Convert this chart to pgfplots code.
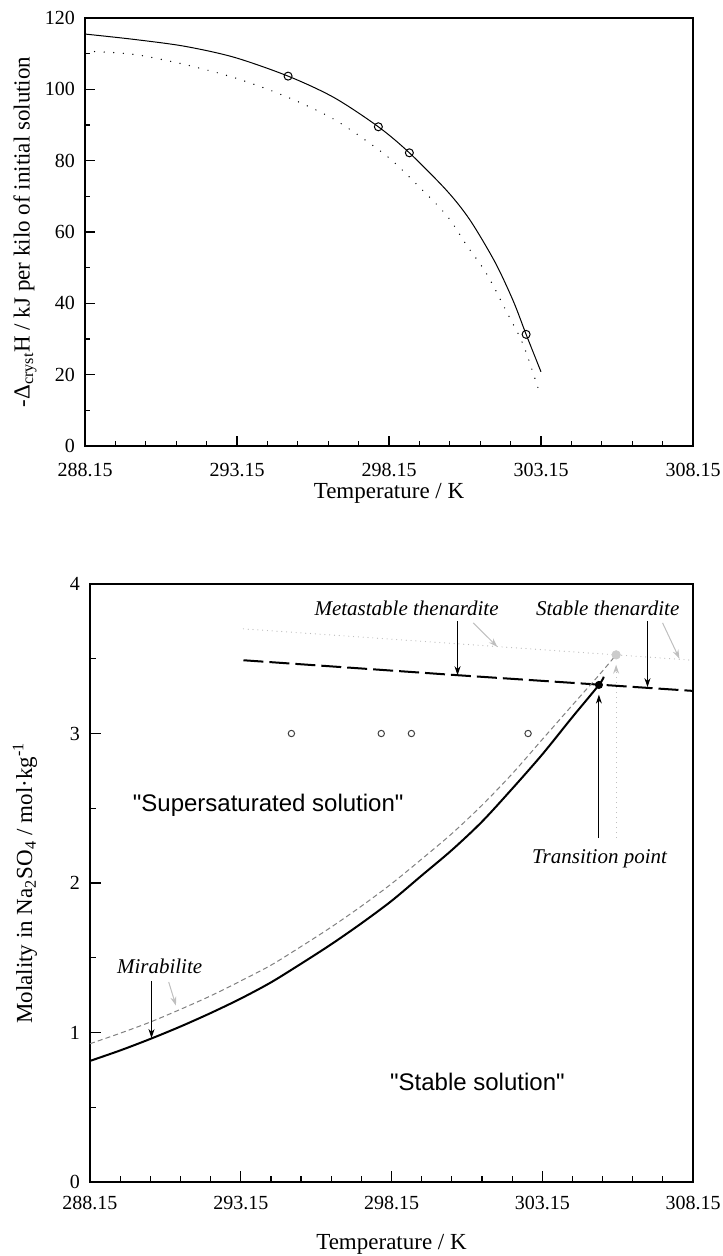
\documentclass[border=0pt]{standalone}
\usepackage{fontspec}
\setmainfont{Liberation Serif}
\newfontfamily\arialish{Liberation Sans}
\usepackage{pgfplots}
\pgfplotsset{compat=1.18}
\usetikzlibrary{arrows.meta}

\pgfplotsset{
  chartbase/.style={
    scale only axis,
    anchor=north west,
    clip=false,
    xmin=288.15, xmax=308.15,
    xtick={288.15,293.15,298.15,303.15,308.15},
    xticklabels={288.15,293.15,298.15,303.15,308.15},
    minor x tick num=4,
    minor y tick num=1,
    tick align=inside,
    xtick pos=left, ytick pos=left,
    tick style={black, line width=0.6pt},
    major tick length=5pt, minor tick length=2.5pt,
    axis line style={line width=0.9pt},
    ticklabel style={font=\fontsize{10}{12}\selectfont},
    label style={font=\fontsize{11.5}{13}\selectfont},
    /pgf/number format/assume math mode=true,
    yticklabel style={xshift=-1.5pt},
  },
}
\tikzset{
  lbl/.style={font=\fontsize{10.5}{12}\selectfont\itshape},
  blkarrow/.style={-{Stealth[length=4.5pt,width=3pt]}, line width=0.5pt, black},
  grayarrow/.style={-{Stealth[length=4.5pt,width=3pt]}, line width=0.5pt, gray!50},
}

\begin{document}
\begin{tikzpicture}
\path[use as bounding box] (0,0) rectangle (361pt,-628pt);

% enthalpy of crystallisation
\begin{axis}[chartbase,
    at={(42.5pt,-9pt)}, width=304pt, height=214pt,
    ymin=0, ymax=120, ytick={0,20,...,120},
    xticklabel style={yshift=-5pt},
    xlabel={Temperature / K},
    ylabel={-Δ\textsubscript{cryst}H / kJ per kilo of initial solution},
    xlabel style={at={(axis description cs:0.5,0)}, anchor=center, yshift=-23.5pt},
    ylabel style={at={(axis description cs:-0.0987,0.5)}, anchor=center},
]
\addplot[black, line width=0.5pt, smooth] coordinates {
  (288.15,115.5) (289.76,114.0) (291.41,112.1) (293.05,109.0) (294.83,103.7)
  (296.34,97.7) (297.80,89.5) (298.82,82.2) (300.05,71.6)
  (300.81,63.4) (301.64,51.5) (302.24,40.6) (302.66,31.3) (303.15,20.8)
};
\addplot[black, line width=0.7pt, line cap=round, dash pattern=on 0pt off 4.8pt, smooth] coordinates {
  (288.15,110.7) (289.76,109.8) (291.41,107.0) (293.05,103.3) (294.70,98.2)
  (296.34,91.6) (297.99,81.9) (298.95,74.3) (300.05,64.6) (300.71,56.2)
  (301.36,48.3) (302.02,37.6) (302.57,28.3) (303.09,15.3)
};
\addplot[only marks, mark=o, mark size=2pt, mark options={black, line width=0.5pt, fill=white}] coordinates {
  (294.83,103.7) (297.80,89.5) (298.82,82.2) (302.66,31.3)
};
\end{axis}

% solubility diagram
\begin{axis}[chartbase,
    at={(45pt,-292pt)}, width=301.5pt, height=299pt,
    ymin=0, ymax=4, ytick={0,1,2,3,4},
    major tick length=5.5pt, minor tick length=3pt,
    xticklabel style={yshift=-3.5pt},
    xlabel={Temperature / K},
    ylabel={Molality in Na\textsubscript{2}SO\textsubscript{4} / mol·kg\textsuperscript{-1}},
    xlabel style={at={(axis description cs:0.5,0)}, anchor=center, yshift=-31pt},
    ylabel style={at={(axis description cs:-0.1078,0.5)}, anchor=center},
]
% metastable thenardite (grey model)
\addplot[gray!55, line width=0.6pt, line cap=round, dash pattern=on 0pt off 2.4pt] coordinates {
  (293.24,3.70) (305.60,3.526) (308.15,3.49)
};
% thenardite
\addplot[black, line width=1pt, dash pattern=on 10pt off 3pt] coordinates {
  (293.24,3.49) (300.34,3.39) (308.15,3.285)
};
% mirabilite (grey model)
\addplot[gray, line width=0.5pt, dash pattern=on 2.5pt off 1.6pt, smooth] coordinates {
  (288.15,0.925) (289.15,0.995) (290.15,1.07) (291.15,1.155) (292.15,1.245)
  (293.15,1.345) (294.15,1.45) (295.15,1.575) (296.15,1.705) (297.15,1.845)
  (298.15,1.995) (299.15,2.16) (300.15,2.33) (301.15,2.52) (302.15,2.73)
  (303.15,2.96) (304.15,3.19) (305.03,3.39) (305.60,3.526)
};
% mirabilite
\addplot[black, line width=1pt, smooth] coordinates {
  (288.15,0.81) (289.15,0.88) (290.15,0.957) (291.15,1.04) (292.15,1.13)
  (293.15,1.227) (294.15,1.335) (295.15,1.46) (296.15,1.59) (297.15,1.73)
  (298.15,1.88) (299.15,2.05) (300.15,2.22) (301.15,2.41) (302.15,2.63)
  (303.15,2.86) (304.15,3.11) (305.03,3.325) (305.19,3.38)
};
\addplot[only marks, mark=o, mark size=1.6pt, mark options={black!75, line width=0.5pt}] coordinates {
  (294.83,3) (297.81,3) (298.81,3) (302.68,3)
};
\addplot[only marks, mark=*, mark size=2.1pt, mark options={gray!40, draw=none}] coordinates {(305.60,3.526)};
\addplot[only marks, mark=*, mark size=1.8pt, mark options={black}] coordinates {(305.03,3.325)};

\node[lbl] at (axis cs:298.65,3.84) {Metastable thenardite};
\draw[blkarrow] (axis cs:300.34,3.75) -- (axis cs:300.34,3.39);
\draw[grayarrow] (axis cs:300.86,3.74) -- (axis cs:301.66,3.58);
\node[lbl] at (axis cs:305.32,3.84) {Stable thenardite};
\draw[blkarrow] (axis cs:306.64,3.75) -- (axis cs:306.64,3.31);
\draw[grayarrow] (axis cs:307.14,3.74) -- (axis cs:307.70,3.50);
\node[lbl] at (axis cs:305.05,2.16) {Transition point};
\draw[blkarrow] (axis cs:305.03,2.30) -- (axis cs:305.03,3.26);
\draw[grayarrow, dotted] (axis cs:305.60,2.30) -- (axis cs:305.60,3.46);
\node[lbl] at (axis cs:290.46,1.443) {Mirabilite};
\draw[blkarrow] (axis cs:290.19,1.346) -- (axis cs:290.19,0.963);
\draw[grayarrow] (axis cs:290.76,1.338) -- (axis cs:291.00,1.18);
\node[font=\fontsize{12}{14}\selectfont\arialish] at (axis cs:294.06,2.52) {"Supersaturated solution"};
\node[font=\fontsize{12}{14}\selectfont\arialish] at (axis cs:301.0,0.668) {"Stable solution"};
\end{axis}
\end{tikzpicture}
\end{document}
